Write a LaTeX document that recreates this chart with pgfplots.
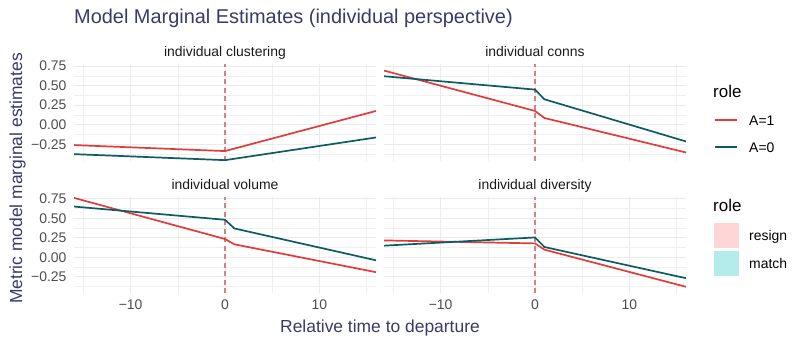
\documentclass[border=0pt]{standalone}
\usepackage{fontspec}
\setmainfont{Liberation Sans}
\usepackage{pgfplots}
\pgfplotsset{compat=1.18}

\definecolor{redA}{HTML}{E03C3A}
\definecolor{tealA}{HTML}{0D5B63}
\definecolor{vlinec}{HTML}{D08584}
\definecolor{gridc}{HTML}{EBEBEB}
\definecolor{tickc}{HTML}{4D4D4D}
\definecolor{titlec}{HTML}{3A3A68}
\definecolor{resignc}{HTML}{FFD6D6}
\definecolor{matchc}{HTML}{B3ECEB}

\newcommand{\fs}[1]{\fontsize{#1}{#1}\selectfont}

\pgfplotsset{
  panel/.style={
    scale only axis, width=302bp, height=96.6bp,
    anchor=south west,
    xmin=-16, xmax=16, ymin=-0.46, ymax=0.775,
    axis line style={draw=none},
    major tick length=0pt, minor tick length=0pt,
    xtick={-10,0,10}, minor xtick={-15,-5,5,15},
    ytick={-0.25,0,0.25,0.5,0.75},
    minor ytick={-0.375,-0.125,0.125,0.375,0.625},
    grid=both,
    major grid style={color=gridc, line width=1bp},
    minor grid style={color=gridc!80, line width=0.5bp},
    xticklabels={}, yticklabels={},
    tick label style={font=\fs{14}, text=tickc},
    xticklabel style={yshift=-3bp},
    yticklabel style={xshift=-4bp},
  },
  xlab/.style={xticklabels={−10,0,10}},
  ylab/.style={yticklabels={−0.25,0.00,0.25,0.50,0.75}},
  red/.style={color=redA, line width=1.7bp},
  teal/.style={color=tealA, line width=1.7bp},
  vl/.style={color=vlinec, line width=1.8bp, dash pattern=on 5bp off 3.5bp},
}

\begin{document}
\begin{tikzpicture}
\path[use as bounding box] (0,0) rectangle (806bp,-345bp);

% title
\node[anchor=base west, text=titlec, font=\fs{20}, inner sep=0] at (74bp,-23.5bp)
  {Model Marginal Estimates (individual perspective)};

% individual clustering
\begin{axis}[panel, ylab, at={(74bp,-160.7bp)}]
\addplot[vl] coordinates {(0,-0.46) (0,0.775)};
\addplot[red] coordinates {(-16,-0.26) (0,-0.337) (1,-0.305) (16,0.176)};
\addplot[teal] coordinates {(-16,-0.376) (0,-0.453) (1,-0.435) (16,-0.163)};
\end{axis}

% individual conns
\begin{axis}[panel, at={(384bp,-160.7bp)}]
\addplot[vl] coordinates {(0,-0.46) (0,0.775)};
\addplot[red] coordinates {(-16,0.692) (0,0.176) (1,0.086) (16,-0.355)};
\addplot[teal] coordinates {(-16,0.62) (0,0.449) (1,0.325) (16,-0.214)};
\end{axis}

% individual volume
\begin{axis}[panel, xlab, ylab, at={(74bp,-293.3bp)}]
\addplot[vl] coordinates {(0,-0.46) (0,0.775)};
\addplot[red] coordinates {(-16,0.76) (0,0.234) (1,0.166) (16,-0.19)};
\addplot[teal] coordinates {(-16,0.649) (0,0.48) (1,0.369) (16,-0.038)};
\end{axis}

% individual diversity
\begin{axis}[panel, xlab, at={(384bp,-293.3bp)}]
\addplot[vl] coordinates {(0,-0.46) (0,0.775)};
\addplot[red] coordinates {(-16,0.216) (0,0.178) (1,0.098) (16,-0.377)};
\addplot[teal] coordinates {(-16,0.149) (0,0.254) (1,0.132) (16,-0.267)};
\end{axis}

% strip labels
\begin{scope}[every node/.style={anchor=base, font=\fs{14}, text=black!90, inner sep=0}]
\node at (225bp,-56bp) {individual clustering};
\node at (535bp,-56bp) {individual conns};
\node at (225bp,-189bp) {individual volume};
\node at (535bp,-189bp) {individual diversity};
\end{scope}

% axis titles
\node[anchor=base, text=titlec, font=\fs{17.5}, inner sep=0] at (380bp,-332bp)
  {Relative time to departure};
\node[anchor=base, rotate=90, text=titlec, font=\fs{17.5}, inner sep=0] at (22bp,-178.5bp)
  {Metric model marginal estimates};

% legends
\begin{scope}[every node/.style={anchor=base west, inner sep=0}]
\node[font=\fs{17}] at (713bp,-97bp) {role};
\draw[redA, line width=1.7bp] (715bp,-120bp) -- (737bp,-120bp);
\draw[tealA, line width=1.7bp] (715bp,-147bp) -- (737bp,-147bp);
\node[font=\fs{14}] at (749bp,-125bp) {A=1};
\node[font=\fs{14}] at (749bp,-152bp) {A=0};

\node[font=\fs{17}] at (713bp,-211bp) {role};
\fill[resignc] (714bp,-223bp) rectangle (739bp,-248bp);
\fill[matchc] (714bp,-250.5bp) rectangle (739bp,-275.5bp);
\node[font=\fs{14}] at (749bp,-240bp) {resign};
\node[font=\fs{14}] at (749bp,-268bp) {match};
\end{scope}
\end{tikzpicture}
\end{document}
